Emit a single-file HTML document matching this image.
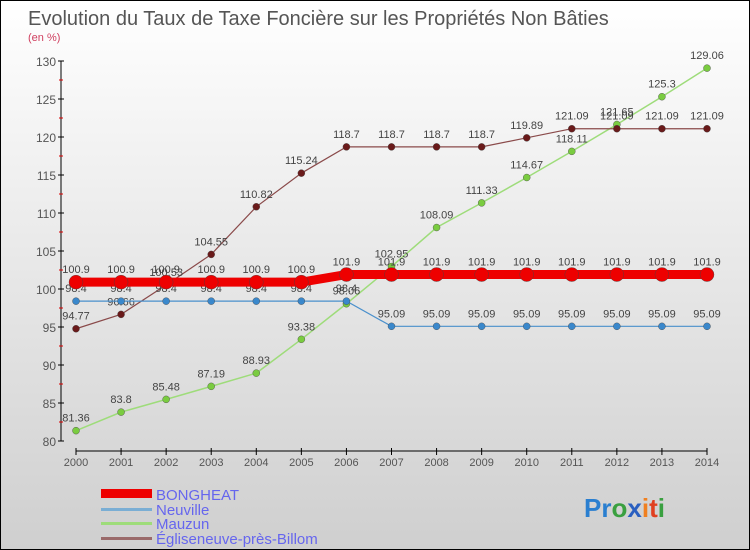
<!DOCTYPE html>
<html><head><meta charset="utf-8"><style>
body{margin:0}
#c{width:750px;height:550px;position:relative;box-sizing:border-box;border:1px solid #000;background:linear-gradient(#ffffff,#cfcfcf);font-family:"Liberation Sans",sans-serif;overflow:hidden}
</style></head><body>
<div id="c">
<svg width="750" height="550" style="position:absolute;left:0;top:0" id="svg">
<text x="27" y="24" font-size="20" fill="#555">Evolution du Taux de Taxe Foncière sur les Propriétés Non Bâties</text>
<text x="27" y="40" font-size="11" fill="#d04060">(en %)</text>
<g id="axes"></g><g id="series"></g>
<g>
<rect x="100" y="488" width="51" height="9" fill="#ee0000"/>
<text x="155" y="499" font-size="15" fill="#6666ee">BONGHEAT</text>
<rect x="100" y="507" width="51" height="3" fill="#7aaed4"/>
<text x="155" y="514" font-size="15" fill="#6666ee">Neuville</text>
<rect x="100" y="521" width="51" height="3" fill="#9edc7a"/>
<text x="155" y="528" font-size="15" fill="#6666ee">Mauzun</text>
<rect x="100" y="536" width="51" height="3" fill="#9a6a6a"/>
<text x="155" y="543" font-size="15" fill="#6666ee">Égliseneuve-près-Billom</text>
</g>
<text x="583" y="516" font-size="26" font-weight="bold"><tspan fill="#2a7fd0">Pr</tspan><tspan fill="#3aa040">o</tspan><tspan fill="#2a5fc0">x</tspan><tspan fill="#f08020">i</tspan><tspan fill="#e04020">t</tspan><tspan fill="#3aa040">i</tspan></text>
</svg>
</div>
<script>
const years=[2000,2001,2002,2003,2004,2005,2006,2007,2008,2009,2010,2011,2012,2013,2014];
const yTicks=[80,85,90,95,100,105,110,115,120,125,130];
const bongheat=[100.9,100.9,100.9,100.9,100.9,100.9,101.9,101.9,101.9,101.9,101.9,101.9,101.9,101.9,101.9];
const neuville=[98.4,98.4,98.4,98.4,98.4,98.4,98.4,95.09,95.09,95.09,95.09,95.09,95.09,95.09,95.09];
const mauzun=[81.36,83.8,85.48,87.19,88.93,93.38,98.06,102.95,108.09,111.33,114.67,118.11,121.65,125.3,129.06];
const egliseneuve=[94.77,96.66,100.53,104.55,110.82,115.24,118.7,118.7,118.7,118.7,119.89,121.09,121.09,121.09,121.09];
const NS="http://www.w3.org/2000/svg";
const X=i=>75+i*(706-75)/(years.length-1);
const Y=v=>440-(v-80)*(380/50);
function mk(t,a,p){const e=document.createElementNS(NS,t);for(const k in a)e.setAttribute(k,a[k]);p.appendChild(e);return e;}
const ax=document.getElementById('axes');
mk('line',{x1:60,y1:60,x2:60,y2:440,stroke:'#000'},ax);
yTicks.forEach(v=>{
 mk('line',{x1:57,y1:Y(v),x2:63,y2:Y(v),stroke:'#000'},ax);
 if(v<130)mk('line',{x1:58,y1:Y(v+2.5),x2:62,y2:Y(v+2.5),stroke:'#d00'},ax);
 const t=mk('text',{x:55,y:Y(v)+5,'font-size':12,fill:'#555','text-anchor':'end'},ax);
 
 
 t.textContent=v;
});
mk('line',{x1:75,y1:450,x2:706,y2:450,stroke:'#000'},ax);
years.forEach((y,i)=>{
 mk('line',{x1:X(i),y1:447,x2:X(i),y2:454,stroke:'#000'},ax);
 const t=mk('text',{x:X(i),y:465,'font-size':11,fill:'#555','text-anchor':'middle'},ax);
 
 
 t.textContent=y;
});
const sg=document.getElementById('series');
function series(name,data,color,w,r,fill){
 const g=mk('g',{},sg);
 
 
 mk('polyline',{points:data.map((v,i)=>X(i)+','+Y(v)).join(' '),fill:'none',stroke:color,'stroke-width':w},g);
 data.forEach((v,i)=>{
  const c=mk('circle',{cx:X(i),cy:Y(v),r:r,fill:fill,stroke:'#444','stroke-width':0.4},g);
  
  
  const t=mk('text',{x:X(i),y:Y(v)-9,'font-size':11,fill:'#444','text-anchor':'middle'},g);
  
  
  t.textContent=v;
 });
}
series('mauzun',mauzun,'#9edc7a',1.5,3.5,'#7acc40');
series('egliseneuve',egliseneuve,'#8a4a4a',1.2,3.5,'#6a1a1a');
series('neuville',neuville,'#4a90cc',1.2,3.5,'#3a88cc');
series('bongheat',bongheat,'#ee0000',9,7,'#ee0000');
</script>
</body></html>
